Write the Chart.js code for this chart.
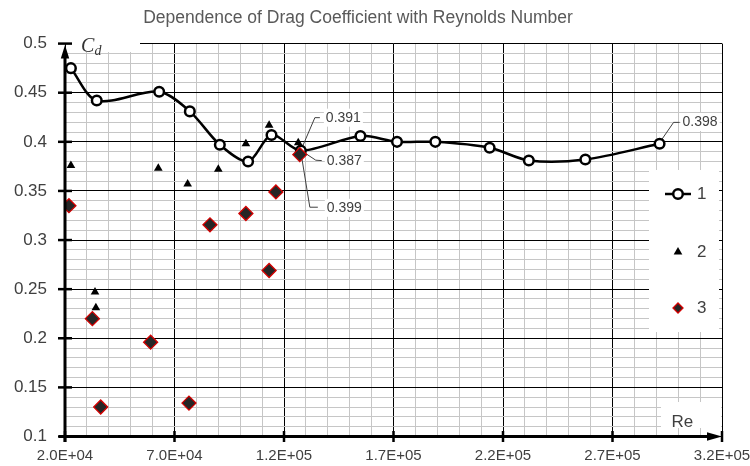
<!DOCTYPE html>
<html><head><meta charset="utf-8">
<script src="https://cdn.jsdelivr.net/npm/chart.js@4/dist/chart.umd.min.js"></script>
<style>html,body{margin:0;padding:0;background:#fff}#wrap{width:750px;height:466px}</style>
</head><body><div id="wrap"><canvas id="c" width="750" height="466"></canvas></div>
<script>
// ---------- data ----------
const chartTitle = 'Dependence of Drag Coefficient with Reynolds Number';
const yAxisName = 'C';
const yAxisSub = 'd';
const xAxisName = 'Re';
const seriesNames = ['1', '2', '3'];

const series1Re = [22.7e3, 34.5e3, 63e3, 77e3, 90.7e3, 103.6e3, 114.3e3, 127.7e3, 154.9e3, 171.6e3, 189.1e3, 213.9e3, 231.8e3, 257.6e3, 291.5e3];
const series1Cd = [0.475, 0.442, 0.451, 0.431, 0.397, 0.380, 0.407, 0.391, 0.406, 0.400, 0.400, 0.394, 0.381, 0.382, 0.398];

const series2Re = [22.7e3, 33.7e3, 34.1e3, 62.6e3, 76e3, 90e3, 102.6e3, 113.2e3, 126.5e3];
const series2Cd = [0.376, 0.247, 0.231, 0.373, 0.357, 0.372, 0.398, 0.417, 0.399];

const series3Re = [21.8e3, 32.5e3, 36.3e3, 59.1e3, 76.6e3, 86.2e3, 102.6e3, 113.2e3, 116.3e3, 127.2e3];
const series3Cd = [0.335, 0.220, 0.130, 0.196, 0.134, 0.3155, 0.327, 0.269, 0.349, 0.387];

const xMin = 2e4, xMax = 3.2e5, xMajor = 5e4, xMinor = 1e4;
const yMin = 0.1, yMax = 0.5, yMajor = 0.05, yMinor = 0.01;

// labelled points: [dataset index, point index]
const labelledPoints = [[0, 7], [2, 9], [1, 8], [0, 14]];

// ---------- styling / layout ----------
const FONT = "'Liberation Sans', Arial, sans-serif";
const TXT = '#404040';
const labelLayout = [
  {start:[2,-5], elbow:[14,-33], end:[19,-33], text:[25,-33]},
  {start:[6,-1], elbow:[16,5.6], end:[22,6], text:[27,6.8]},
  {start:[1.6,3], elbow:[11.6,64.4], end:[19.6,64.4], text:[28.6,65]},
  {start:[2,-4], elbow:[14,-21.4], end:[20,-21.4], text:[23,-21.8]}
];

const toPts = (xs, ys) => xs.map((x, i) => ({x, y: ys[i]}));
const isMajor = (v, base, step, minor) => Math.round((v - base) / minor) % Math.round(step / minor) === 0;
const fmtSci = v => {
  const e = Math.floor(Math.log10(v) + 1e-9);
  const m = v / Math.pow(10, e);
  return m.toFixed(1) + 'E+' + String(e).padStart(2, '0');
};

function drawMarker(ctx, style, x, y, r, fill, stroke, bw) {
  ctx.save();
  ctx.beginPath();
  if (style === 'circle') {
    ctx.arc(x, y, r, 0, Math.PI * 2);
  } else if (style === 'triangle') {
    for (let k = 0; k < 3; k++) {
      const a = k * 2 * Math.PI / 3;
      const X = x + Math.sin(a) * r, Y = y - Math.cos(a) * r;
      k ? ctx.lineTo(X, Y) : ctx.moveTo(X, Y);
    }
    ctx.closePath();
  } else {
    ctx.moveTo(x, y - r); ctx.lineTo(x + r, y); ctx.lineTo(x, y + r); ctx.lineTo(x - r, y); ctx.closePath();
  }
  ctx.fillStyle = fill; ctx.fill();
  if (bw > 0) { ctx.lineWidth = bw; ctx.strokeStyle = stroke; ctx.stroke(); }
  ctx.restore();
}

const decor = {
  id: 'decor',
  beforeDatasetsDraw(chart) {
    const ctx = chart.ctx, a = chart.chartArea;
    const xs = chart.scales.x, ys = chart.scales.y;
    ctx.save();
    ctx.fillStyle = '#fff';
    // box behind the Cd name
    ctx.fillRect(a.left + 1.5, 28, 140 - a.left - 1.5, 24);
    // legend box
    ctx.fillRect(649, 170, a.right - 3 - 649, 162);
    // Re box
    ctx.fillRect(661, 402, a.right - 1 - 661, 26);
    // data labels: leaders + boxes + text
    ctx.font = '14px ' + FONT;
    labelledPoints.forEach(([d, i], k) => {
      const ds = chart.data.datasets[d].data[i];
      const X = xs.getPixelForValue(ds.x), Y = ys.getPixelForValue(ds.y);
      const L = labelLayout[k];
      ctx.strokeStyle = '#404040'; ctx.lineWidth = 1;
      ctx.beginPath();
      ctx.moveTo(X + L.start[0], Y + L.start[1]);
      ctx.lineTo(X + L.elbow[0], Y + L.elbow[1]);
      ctx.lineTo(X + L.end[0], Y + L.end[1]);
      ctx.stroke();
      const t = ds.y.toFixed(3);
      const w = ctx.measureText(t).width;
      ctx.fillStyle = '#fff';
      ctx.fillRect(X + L.text[0] - 2, Y + L.text[1] - 9, w + 4, 18);
      ctx.fillStyle = TXT; ctx.textBaseline = 'middle'; ctx.textAlign = 'left';
      ctx.fillText(t, X + L.text[0], Y + L.text[1]);
    });
    ctx.restore();
  },
  afterDatasetsDraw(chart) {
    const ctx = chart.ctx, a = chart.chartArea;
    const xs = chart.scales.x, ys = chart.scales.y;
    const x0 = xs.getPixelForValue(xMin), y0 = ys.getPixelForValue(yMin);
    ctx.save();
    ctx.strokeStyle = '#000'; ctx.fillStyle = '#000';
    // y axis
    ctx.lineWidth = 3;
    ctx.beginPath(); ctx.moveTo(x0, y0 + 5.5); ctx.lineTo(x0, a.top + 14); ctx.stroke();
    ctx.beginPath(); ctx.moveTo(x0, a.top + 1.5); ctx.lineTo(x0 - 4.2, a.top + 15); ctx.lineTo(x0 + 4.2, a.top + 15); ctx.closePath(); ctx.fill();
    // x axis
    ctx.beginPath(); ctx.moveTo(x0 - 6, y0); ctx.lineTo(a.right - 12, y0); ctx.stroke();
    ctx.beginPath(); ctx.moveTo(a.right, y0); ctx.lineTo(a.right - 15, y0 - 4.2); ctx.lineTo(a.right - 15, y0 + 4.2); ctx.closePath(); ctx.fill();
    // ticks
    ctx.lineWidth = 2.5;
    for (let v = yMin; v <= yMax + 1e-9; v += yMajor) {
      const y = ys.getPixelForValue(v);
      ctx.beginPath(); ctx.moveTo(x0 - 7, y); ctx.lineTo(x0 + 7, y); ctx.stroke();
    }
    for (let v = xMin; v <= xMax + 1; v += xMajor) {
      const x = xs.getPixelForValue(v);
      ctx.beginPath(); ctx.moveTo(x, y0 - 5.5); ctx.lineTo(x, y0 + 5.5); ctx.stroke();
    }
    // axis names
    ctx.fillStyle = '#333';
    ctx.textBaseline = 'alphabetic'; ctx.textAlign = 'left';
    ctx.font = 'italic 20px "Liberation Serif", "DejaVu Serif", serif';
    ctx.fillText(yAxisName, 81, 51.5);
    ctx.font = 'italic 14px "Liberation Serif", "DejaVu Serif", serif';
    ctx.fillText(yAxisSub, 94.5, 55);
    ctx.fillStyle = TXT;
    ctx.font = '17px ' + FONT;
    ctx.fillText(xAxisName, 671.5, 426.5);
    // legend
    const ly = [194, 252, 308];
    chart.data.datasets.forEach((ds, k) => {
      const cx = 678, cy = ly[k];
      if (ds.showLine) {
        ctx.strokeStyle = ds.borderColor; ctx.lineWidth = ds.borderWidth;
        ctx.beginPath(); ctx.moveTo(665, cy); ctx.lineTo(691, cy); ctx.stroke();
      }
      const r = k === 2 ? 5 : ds.pointRadius;
      drawMarker(ctx, ds.pointStyle, cx, cy, r, ds.pointBackgroundColor, ds.pointBorderColor, ds.pointBorderWidth);
      ctx.fillStyle = TXT; ctx.font = '17px ' + FONT; ctx.textBaseline = 'middle'; ctx.textAlign = 'left';
      ctx.fillText(ds.label, 697, cy + 0.5);
    });
    // title
    ctx.fillStyle = '#595959';
    ctx.font = '17.5px ' + FONT; ctx.textAlign = 'center'; ctx.textBaseline = 'alphabetic';
    ctx.fillText(chartTitle, 358, 22.5);
    ctx.restore();
  }
};

new Chart(document.getElementById('c'), {
  type: 'scatter',
  data: {
    datasets: [
      {label: seriesNames[0], data: toPts(series1Re, series1Cd), showLine: true, borderColor: '#000', borderWidth: 2.5, tension: 0.3,
       pointStyle: 'circle', pointRadius: 4.8, pointBackgroundColor: '#fff', pointBorderColor: '#000', pointBorderWidth: 2.5, order: 3},
      {label: seriesNames[1], data: toPts(series2Re, series2Cd), showLine: false,
       pointStyle: 'triangle', pointRadius: 5, pointBackgroundColor: '#000', pointBorderColor: '#000', pointBorderWidth: 0, order: 2},
      {label: seriesNames[2], data: toPts(series3Re, series3Cd), showLine: false,
       pointStyle: 'rectRot', pointRadius: 7, pointBackgroundColor: '#262626', pointBorderColor: '#d40000', pointBorderWidth: 1.3, order: 1}
    ]
  },
  options: {
    responsive: false, animation: false, devicePixelRatio: 1,
    layout: {padding: {top: 43.6, right: 28, left: 0, bottom: 0}},
    plugins: {legend: {display: false}, tooltip: {enabled: false}, title: {display: false}},
    scales: {
      x: {
        type: 'linear', min: xMin, max: xMax,
        afterBuildTicks: s => { const t = []; for (let v = xMin; v <= xMax + 1; v += xMinor) t.push({value: v}); s.ticks = t; },
        ticks: {autoSkip: false, maxRotation: 0, padding: 10, color: TXT, font: {family: FONT, size: 15},
                callback: v => isMajor(v, xMin, xMajor, xMinor) ? fmtSci(v) : ''},
        grid: {drawTicks: false, lineWidth: 1, color: c => (c.tick && isMajor(c.tick.value, xMin, xMajor, xMinor)) ? '#000' : '#c6c6c6'},
        border: {display: false},
        afterFit: s => { s.height = 29.5; s.paddingLeft = 0; s.paddingRight = 0; }
      },
      y: {
        type: 'linear', min: yMin, max: yMax,
        afterBuildTicks: s => { const t = []; for (let k = 0; k <= Math.round((yMax - yMin) / yMinor); k++) t.push({value: +(yMin + k * yMinor).toFixed(4)}); s.ticks = t; },
        ticks: {autoSkip: false, padding: 18, color: TXT, font: {family: FONT, size: 17},
                callback: v => isMajor(v, yMin, yMajor, yMinor) ? String(+v.toFixed(2)) : ''},
        grid: {drawTicks: false, lineWidth: 1, color: c => (c.tick && isMajor(c.tick.value, yMin, yMajor, yMinor)) ? '#000' : '#c6c6c6'},
        border: {display: false},
        afterFit: s => { s.width = 65; s.paddingTop = 0; s.paddingBottom = 0; }
      }
    }
  },
  plugins: [decor]
});
</script>
</body></html>
